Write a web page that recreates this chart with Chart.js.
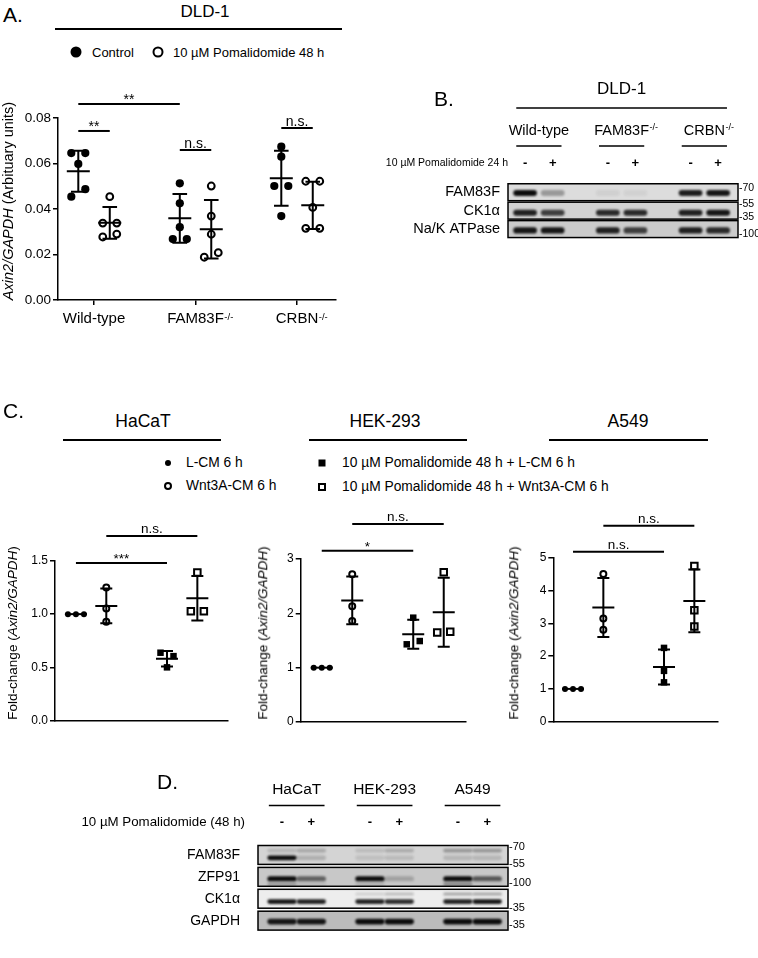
<!DOCTYPE html>
<html><head><meta charset="utf-8">
<script src="https://cdn.jsdelivr.net/npm/chart.js@4.4.1/dist/chart.umd.min.js"></script>
<style>
html,body{margin:0;padding:0;background:#fff}
body{width:758px;height:958px;position:relative;overflow:hidden;font-family:"Liberation Sans",Arial,Helvetica,sans-serif;color:#000}
canvas{position:absolute;display:block}
.t{position:absolute;white-space:nowrap;line-height:1}
.c{transform:translate(-50%,-50%)}
.l{transform:translate(0,-50%)}
.rot{transform:translate(-50%,-50%) rotate(-90deg)}
.hl{position:absolute;height:1.5px;background:#000}
.sym{position:absolute;box-sizing:border-box;transform:translate(-50%,-50%)}
</style></head><body>
<canvas id="chartA" width="350" height="280" style="left:0;top:60px"></canvas>
<canvas id="chartB" width="378" height="185" style="left:380px;top:70px"></canvas>
<canvas id="chartC1" width="250" height="240" style="left:0;top:500px"></canvas>
<canvas id="chartC2" width="250" height="240" style="left:250px;top:500px"></canvas>
<canvas id="chartC3" width="258" height="240" style="left:500px;top:500px"></canvas>
<canvas id="chartD" width="698" height="198" style="left:60px;top:760px"></canvas>
<script>
// ================= DATA =================
// Panel A – DLD-1 qPCR
const aCellLine = 'DLD-1';
const aCategories = ['Wild-type', 'FAM83F', 'CRBN'];
const aCategorySup = ['', '-/-', '-/-'];
const aSeries = ['Control', '10 µM Pomalidomide 48 h'];
const aYTicks = [0, 0.02, 0.04, 0.06, 0.08];
const aWildTypeControl = [0.0646, 0.0646, 0.0598, 0.0454, 0.0487];
const aWildTypePom = [0.0454, 0.0338, 0.0338, 0.0277, 0.0290];
const aFam83fControl = [0.0513, 0.0425, 0.0320, 0.0268, 0.0268];
const aFam83fPom = [0.0501, 0.0369, 0.0289, 0.0188, 0.0208];
const aCrbnControl = [0.0674, 0.0630, 0.0501, 0.0501, 0.0369];
const aCrbnPom = [0.0522, 0.0522, 0.0407, 0.0315, 0.0315];
const aSigLabels = ['**', '**', 'n.s.', 'n.s.'];
const aSigFrom = [0, 0, 2, 4];
const aSigTo = [2, 1, 3, 5];
const aSigLevel = [0.0862, 0.0743, 0.0659, 0.0756];

// Panel B – DLD-1 blot
const bCellLine = 'DLD-1';
const bGroups = ['Wild-type', 'FAM83F', 'CRBN'];
const bGroupSup = ['', '-/-', '-/-'];
const bTreatmentLabel = '10 µM Pomalidomide 24 h';
const bTreatment = ['-', '+', '-', '+', '-', '+'];
const bProteins = ['FAM83F', 'CK1α', 'Na/K ATPase'];
const bFam83fBand = [1.0, 0.32, 0.06, 0.05, 0.92, 0.95];
const bCk1aBand = [0.9, 0.75, 0.85, 0.85, 0.9, 0.95];
const bNakBand = [0.95, 0.95, 0.9, 0.75, 0.9, 0.85];
const bMarkerLabels = ['70', '55', '35', '100'];
const bMarkerRow = [0, 1, 1, 2];

// Panel C – fold change
const cCellLines = ['HaCaT', 'HEK-293', 'A549'];
const cConditions = ['L-CM 6 h', 'Wnt3A-CM 6 h', '10 µM Pomalidomide 48 h + L-CM 6 h', '10 µM Pomalidomide 48 h + Wnt3A-CM 6 h'];
const cHacatLcm = [1, 1, 1];
const cHacatWnt = [1.25, 1.053, 0.928];
const cHacatPomLcm = [0.639, 0.607, 0.502];
const cHacatPomWnt = [1.39, 1.028, 1.028];
const cHek293Lcm = [1, 1, 1];
const cHek293Wnt = [2.72, 2.13, 1.86];
const cHek293PomLcm = [1.92, 1.43, 1.49];
const cHek293PomWnt = [2.755, 1.645, 1.66];
const cA549Lcm = [1, 1, 1];
const cA549Wnt = [4.5, 3.15, 2.8];
const cA549PomLcm = [2.25, 1.55, 1.2];
const cA549PomWnt = [4.75, 3.4, 2.9];
const cHacatYTicks = [0, 0.5, 1.0, 1.5];
const cHek293YTicks = [0, 1, 2, 3];
const cA549YTicks = [0, 1, 2, 3, 4, 5];
const cSigFrom = [0, 1];
const cSigTo = [2, 3];
const cHacatSigLabels = ['***', 'n.s.'];
const cHacatSigLevel = [1.479, 1.732];
const cHek293SigLabels = ['*', 'n.s.'];
const cHek293SigLevel = [3.153, 3.645];
const cA549SigLabels = ['n.s.', 'n.s.'];
const cA549SigLevel = [5.18, 5.976];

// Panel D – blot
const dCellLines = ['HaCaT', 'HEK-293', 'A549'];
const dTreatmentLabel = '10 µM Pomalidomide (48 h)';
const dTreatment = ['-', '+', '-', '+', '-', '+'];
const dProteins = ['FAM83F', 'ZFP91', 'CK1α', 'GAPDH'];
const dFam83fBand = [1.0, 0.18, 0.1, 0.12, 0.15, 0.15];
const dFam83fUpperBand = [0.15, 0.22, 0.12, 0.2, 0.3, 0.3];
const dZfp91Band = [1.0, 0.55, 1.0, 0.2, 1.0, 0.6];
const dZfp91LowerBand = [0.25, 0.08, 0.12, 0, 0.35, 0.05];
const dCk1aBand = [0.95, 0.9, 0.9, 0.85, 0.9, 0.95];
const dCk1aUpperBand = [0, 0, 0.12, 0.2, 0.3, 0.3];
const dGapdhBand = [0.95, 0.95, 1, 1, 1, 1];
const dMarkerLabels = ['70', '55', '100', '35', '35'];
const dMarkerRow = [0, 0, 1, 2, 3];

// ================= SETUP =================
const FAM = '"Liberation Sans", Arial, Helvetica, sans-serif';
Chart.defaults.font.family = FAM;
Chart.defaults.color = '#000';
Chart.defaults.animation = false;

function addText(html, x, y, size, cls, style) {
  const d = document.createElement('div');
  d.className = 't ' + cls;
  d.style.left = x + 'px'; d.style.top = y + 'px'; d.style.fontSize = size + 'px';
  if (style) d.style.cssText += style;
  d.innerHTML = html;
  document.body.appendChild(d);
  return d;
}
function addLine(x0, x1, y) {
  const d = document.createElement('div');
  d.className = 'hl';
  d.style.left = x0 + 'px'; d.style.top = (y - 0.75) + 'px'; d.style.width = (x1 - x0) + 'px';
  document.body.appendChild(d);
}
function addSym(x, y, size, round, filled) {
  const d = document.createElement('div');
  d.className = 'sym';
  d.style.left = x + 'px'; d.style.top = y + 'px';
  d.style.width = size + 'px'; d.style.height = size + 'px';
  if (round) d.style.borderRadius = '50%';
  if (filled) d.style.background = '#000'; else d.style.border = '2px solid #000';
  document.body.appendChild(d);
}

// ---------- swarm (points spread sideways when they overlap) ----------
function applySwarm(chart, binPx) {
  const xs = chart.scales.x, ys = chart.scales.y;
  chart.data.datasets.forEach(ds => {
    const cx = xs.getPixelForValue(ds.groupPos);
    const pts = ds.values.map((v, i) => ({ v, i, py: ys.getPixelForValue(v) }));
    const sorted = [...pts].sort((a, b) => a.py - b.py);
    const bins = []; let cur = [];
    sorted.forEach((p, k) => {
      if (k > 0 && p.py - sorted[k - 1].py >= binPx) { bins.push(cur); cur = []; }
      cur.push(p);
    });
    if (cur.length) bins.push(cur);
    bins.forEach(bin => {
      bin.sort((a, b) => a.i - b.i);
      bin.forEach((p, k) => { p.px = cx + (k - (bin.length - 1) / 2) * ds.spread; });
    });
    ds.data = pts.map(p => ({ x: xs.getValueForPixel(p.px), y: p.v }));
  });
  chart.update('none');
}

function makeStatsPlugin(st) {
  return {
    id: 'stats',
    afterDatasetsDraw(chart) {
      const ctx = chart.ctx, xs = chart.scales.x, ys = chart.scales.y;
      ctx.save();
      ctx.strokeStyle = '#000'; ctx.lineWidth = st.lineWidth; ctx.lineCap = 'butt';
      chart.data.datasets.forEach(ds => {
        const v = ds.values, n = v.length;
        const mean = v.reduce((a, b) => a + b, 0) / n;
        const sd = Math.sqrt(v.reduce((a, b) => a + (b - mean) * (b - mean), 0) / (n - 1));
        const cx = xs.getPixelForValue(ds.groupPos);
        const ym = ys.getPixelForValue(mean), yt = ys.getPixelForValue(mean + sd), yb = ys.getPixelForValue(mean - sd);
        ctx.beginPath();
        ctx.moveTo(cx - st.meanHalf, ym); ctx.lineTo(cx + st.meanHalf, ym);
        if (sd > 1e-9) {
          ctx.moveTo(cx, yt); ctx.lineTo(cx, yb);
          ctx.moveTo(cx - st.capHalf, yt); ctx.lineTo(cx + st.capHalf, yt);
          ctx.moveTo(cx - st.capHalf, yb); ctx.lineTo(cx + st.capHalf, yb);
        }
        ctx.stroke();
      });
      ctx.fillStyle = '#000'; ctx.textAlign = 'center'; ctx.textBaseline = 'alphabetic';
      ctx.font = st.sigFont + 'px ' + FAM;
      st.sigLabels.forEach((lab, k) => {
        const d0 = chart.data.datasets[st.sigFrom[k]], d1 = chart.data.datasets[st.sigTo[k]];
        const x0 = xs.getPixelForValue(d0.groupPos), x1 = xs.getPixelForValue(d1.groupPos);
        const y = ys.getPixelForValue(st.sigLevel[k]);
        ctx.beginPath(); ctx.moveTo(x0, y); ctx.lineTo(x1, y); ctx.stroke();
        const star = lab.indexOf('*') >= 0;
        ctx.fillText(lab, (x0 + x1) / 2, y - (star ? st.starGap : st.textGap));
      });
      ctx.restore();
    }
  };
}

function makeSupPlugin(labels, sups, mainSize, supSize, tickLen, pad, dy) {
  return {
    id: 'xsup',
    afterDraw(chart) {
      const xs = chart.scales.x, ctx = chart.ctx;
      ctx.save(); ctx.fillStyle = '#000'; ctx.textAlign = 'left'; ctx.textBaseline = 'top';
      labels.forEach((lab, i) => {
        if (!sups[i]) return;
        ctx.font = mainSize + 'px ' + FAM;
        const w = ctx.measureText(lab).width;
        const x = xs.getPixelForValue(i) + w / 2 + 0.5;
        ctx.font = supSize + 'px ' + FAM;
        ctx.fillText(sups[i], x, xs.top + tickLen + pad + dy);
      });
      ctx.restore();
    }
  };
}

function dotChart(id, cfg) {
  const datasets = cfg.groups.map(g => ({
    label: g.label, values: g.values, groupPos: g.pos, spread: g.spread,
    data: g.values.map(v => ({ x: g.pos, y: v })),
    pointStyle: g.shape, pointRadius: g.radius, pointHoverRadius: g.radius,
    backgroundColor: g.filled ? '#000' : '#fff', borderColor: '#000',
    borderWidth: g.filled ? 0 : 2, showLine: false, clip: false
  }));
  const plugins = [makeStatsPlugin(cfg.stats)];
  if (cfg.sup) plugins.push(cfg.sup);
  const chart = new Chart(document.getElementById(id), {
    type: 'scatter',
    data: { datasets },
    options: {
      responsive: false, devicePixelRatio: 1, animation: false,
      layout: { padding: cfg.padding },
      events: [],
      scales: {
        x: {
          type: 'linear', min: cfg.xMin, max: cfg.xMax,
          afterBuildTicks: s => { s.ticks = (cfg.xTicks || []).map(v => ({ value: v })); },
          afterFit: s => { s.height = cfg.xHeight; },
          ticks: { display: !!cfg.xLabels, callback: v => (cfg.xLabels ? cfg.xLabels[v] : ''), font: { size: cfg.xFont || 12 }, padding: cfg.xPad || 0, maxRotation: 0, autoSkip: false, color: '#000' },
          grid: { display: !!cfg.xTicks, drawOnChartArea: false, drawTicks: true, tickLength: 5, color: '#000', lineWidth: 1.5 },
          border: { display: true, color: '#000', width: 1.5 }
        },
        y: {
          type: 'linear', min: cfg.yMin, max: cfg.yMax,
          afterBuildTicks: s => { s.ticks = cfg.yTicks.map(v => ({ value: v })); },
          afterFit: s => { s.width = cfg.yWidth; },
          ticks: { callback: v => Number(v).toFixed(cfg.yDec), font: { size: cfg.yFont }, padding: 2, color: '#000', autoSkip: false },
          grid: { display: true, drawOnChartArea: false, drawTicks: true, tickLength: 5, color: '#000', lineWidth: 1.5 },
          border: { display: true, color: '#000', width: 1.5 }
        }
      },
      plugins: { legend: { display: false }, tooltip: { enabled: false } }
    },
    plugins
  });
  applySwarm(chart, cfg.binPx);
  return chart;
}

// ---------- western blot drawn on a Chart.js lane/row grid ----------
const lanePos = i => i + Math.floor(i / 2); // pairs of lanes with a gap between groups
function makeBlotPlugin(o) {
  return {
    id: 'blot',
    afterDraw(chart) {
      const ctx = chart.ctx, xs = chart.scales.x, ys = chart.scales.y, ca = chart.chartArea;
      const lx = i => xs.getPixelForValue(lanePos(i));
      const u = lx(1) - lx(0);
      const rowH = (ca.bottom - ca.top) / o.rows.length;
      const rowBox = r => { const cy = ys.getPixelForValue(r); return { top: cy - rowH / 2 + o.rowGap / 2, h: rowH - o.rowGap }; };
      ctx.save();
      o.rows.forEach((row, r) => {
        const { top, h } = rowBox(r);
        ctx.fillStyle = row.bg;
        ctx.fillRect(ca.left, top, ca.right - ca.left, h);
        ctx.save();
        ctx.beginPath(); ctx.rect(ca.left, top, ca.right - ca.left, h); ctx.clip();
        row.bands.forEach(b => {
          b.values.forEach((v, i) => {
            if (!v) return;
            const x = lx(i), y = top + b.frac * h;
            const hw = o.bandHalfW * u, hh = b.halfH;
            ctx.save();
            ctx.filter = 'blur(' + o.blur + 'px)';
            ctx.fillStyle = 'rgba(12,12,12,' + v + ')';
            ctx.beginPath();
            if (ctx.roundRect) ctx.roundRect(x - hw, y - hh, 2 * hw, 2 * hh, hh);
            else ctx.rect(x - hw, y - hh, 2 * hw, 2 * hh);
            ctx.fill();
            ctx.restore();
          });
        });
        ctx.restore();
        ctx.lineWidth = 1.5; ctx.strokeStyle = '#000';
        ctx.strokeRect(ca.left, top, ca.right - ca.left, h);
      });
      // molecular weight markers
      ctx.fillStyle = '#000'; ctx.textAlign = 'left'; ctx.textBaseline = 'middle';
      ctx.font = o.mwSize + 'px ' + FAM;
      o.markers.forEach((m, k) => {
        const { top, h } = rowBox(o.markerRows[k]);
        ctx.fillText('-' + m, ca.right + 1, top + o.markerFrac[k] * h);
      });
      // group headers
      let ulStart = null, ulEnd = null;
      o.groups.forEach((g, gi) => {
        const cx = (lx(2 * gi) + lx(2 * gi + 1)) / 2;
        const gy = ca.top - o.groupOff;
        ctx.font = o.groupSize + 'px ' + FAM; ctx.textAlign = 'center'; ctx.textBaseline = 'middle';
        ctx.fillText(g, cx, gy);
        if (o.groupSup && o.groupSup[gi]) {
          const w = ctx.measureText(g).width;
          ctx.font = o.supSize + 'px ' + FAM; ctx.textAlign = 'left';
          ctx.fillText(o.groupSup[gi], cx + w / 2 + 0.5, gy - o.supRaise);
        }
        const a = cx - o.ulHalf * u, b = cx + o.ulHalf * u, uy = ca.top - o.ulOff;
        ctx.lineWidth = 1.5; ctx.strokeStyle = '#000';
        ctx.beginPath(); ctx.moveTo(a, uy); ctx.lineTo(b, uy); ctx.stroke();
        if (ulStart === null) ulStart = a; ulEnd = b;
      });
      if (o.title) {
        ctx.font = o.titleSize + 'px ' + FAM; ctx.textAlign = 'center'; ctx.textBaseline = 'middle';
        ctx.fillText(o.title, (lx(0) + lx(o.signs.length - 1)) / 2, ca.top - o.titleOff);
        const ty = ca.top - o.titleLineOff;
        ctx.beginPath(); ctx.moveTo(ulStart, ty); ctx.lineTo(ulEnd, ty); ctx.stroke();
      }
      // treatment signs
      const sy = ca.top - o.signOff;
      ctx.font = 'bold ' + o.signSize + 'px ' + FAM; ctx.textAlign = 'center'; ctx.textBaseline = 'middle';
      o.signs.forEach((s, i) => ctx.fillText(s, lx(i), sy));
      ctx.font = o.treatSize + 'px ' + FAM; ctx.textAlign = 'right';
      ctx.fillText(o.treatLabel, ca.left - o.treatGap, sy);
      ctx.restore();
    }
  };
}
function blotChart(id, o) {
  return new Chart(document.getElementById(id), {
    type: 'scatter',
    data: { datasets: [{ data: [] }] },
    options: {
      responsive: false, devicePixelRatio: 1, animation: false, events: [],
      layout: { padding: o.padding },
      scales: {
        x: { type: 'linear', min: o.xMin, max: o.xMax, display: false },
        y: {
          type: 'category', labels: o.rows.map(r => r.name), offset: true,
          afterFit: s => { s.width = o.yWidth; },
          ticks: { font: { size: o.rowFont }, padding: o.rowPad, color: '#000', autoSkip: false },
          grid: { display: false, drawTicks: false }, border: { display: false }
        }
      },
      plugins: { legend: { display: false }, tooltip: { enabled: false } }
    },
    plugins: [makeBlotPlugin(o)]
  });
}

// ================= PANEL A =================
addText('A.', 3, 14, 21, 'l');
addText(aCellLine, 205, 11, 17, 'c');
addLine(55, 342, 29);
addSym(76, 52, 11, true, true);
addText(aSeries[0], 92, 52, 13, 'l');
addSym(158, 52, 11, true, false);
addText(aSeries[1], 173, 52, 13, 'l');
addText('<i>Axin2/GAPDH</i> (Arbituary units)', 8, 201, 14.5, 'rot');

const aOff = 0.155;
const aGroupValues = [aWildTypeControl, aWildTypePom, aFam83fControl, aFam83fPom, aCrbnControl, aCrbnPom];
dotChart('chartA', {
  groups: aGroupValues.map((vals, g) => {
    const cat = Math.floor(g / 2), treated = g % 2 === 1;
    return {
      label: aCategories[cat] + ' – ' + aSeries[g % 2], values: vals,
      pos: cat + (treated ? aOff : -aOff),
      shape: 'circle', radius: treated ? 3.4 : 4.1, filled: !treated, spread: 14
    };
  }),
  binPx: 9,
  padding: { top: 58, right: 14, bottom: 10, left: 0 },
  xMin: -0.355, xMax: 2.384, xTicks: [0, 1, 2], xLabels: aCategories, xFont: 15, xPad: 5, xHeight: 30,
  yMin: 0, yMax: 0.08, yTicks: aYTicks, yDec: 2, yFont: 13.5, yWidth: 58,
  stats: { lineWidth: 2, meanHalf: 11.5, capHalf: 7.3, sigFont: 14, starGap: 0, textGap: 2.5,
           sigLabels: aSigLabels, sigFrom: aSigFrom, sigTo: aSigTo, sigLevel: aSigLevel },
  sup: makeSupPlugin(aCategories, aCategorySup, 15, 9.5, 5, 5, 3)
});

// ================= PANEL B =================
addText('B.', 434, 98, 21, 'l');
blotChart('chartB', {
  padding: { top: 113, right: 20, bottom: 13, left: 0 },
  yWidth: 128, rowPad: 8, rowFont: 14.5,
  xMin: -0.62, xMax: 7.72, rowGap: 1.5,
  title: bCellLine, titleSize: 17, titleOff: 94, titleLineOff: 75,
  groups: bGroups, groupSup: bGroupSup, groupSize: 14.5, supSize: 9, supRaise: 3,
  groupOff: 52, ulOff: 37, ulHalf: 0.82,
  signs: bTreatment, signOff: 20, signSize: 13,
  treatLabel: bTreatmentLabel, treatSize: 10.5, treatGap: 0,
  markers: bMarkerLabels, markerRows: bMarkerRow, markerFrac: [0.23, 0.09, 0.91, 0.82], mwSize: 10.5,
  bandHalfW: 0.43, blur: 0.9,
  rows: [
    { name: bProteins[0], bg: '#dcdcdc', bands: [{ frac: 0.55, halfH: 3, values: bFam83fBand }] },
    { name: bProteins[1], bg: '#d2d2d2', bands: [{ frac: 0.62, halfH: 3, values: bCk1aBand }] },
    { name: bProteins[2], bg: '#cbcbcb', bands: [{ frac: 0.58, halfH: 3.1, values: bNakBand }] }
  ]
});

// ================= PANEL C =================
addText('C.', 3, 410, 21, 'l');
const cHeaderX = [143, 385, 628];
const cLineSpan = [[63, 221], [309, 467], [549, 708]];
cCellLines.forEach((n, i) => { addText(n, cHeaderX[i], 422, 17.5, 'c'); addLine(cLineSpan[i][0], cLineSpan[i][1], 440); });
const cLegSym = [[168, 463, 6, true, true], [168, 486, 8, true, false], [322, 463, 7, false, true], [322, 487, 8, false, false]];
const cLegText = [[186, 463], [186, 486], [342, 463], [342, 487]];
cConditions.forEach((c, i) => {
  const s = cLegSym[i]; addSym(s[0], s[1], s[2], s[3], s[4]);
  addText(c, cLegText[i][0], cLegText[i][1], 13.8, 'l');
});
const cYTitle = 'Fold-change (<i>Axin2/GAPDH</i>)';
addText(cYTitle, 13, 633, 13.5, 'rot');
addText(cYTitle, 263, 633, 13.5, 'rot');
addText(cYTitle, 514, 633, 13.5, 'rot');

const cPos = i => i + 1 + (i >= 2 ? 1 : 0);
function cGroups(vals) {
  const shapes = [['circle', 3, true, 8], ['circle', 3, false, 13], ['rect', 4.6, true, 13], ['rect', 4.6, false, 13]];
  return vals.map((v, i) => ({ label: cConditions[i], values: v, pos: cPos(i), shape: shapes[i][0], radius: shapes[i][1], filled: shapes[i][2], spread: shapes[i][3] }));
}
const cStats = (labels, levels) => ({ lineWidth: 2, meanHalf: 11, capHalf: 6, sigFont: 13.5, starGap: 0, textGap: 2.5, sigLabels: labels, sigFrom: cSigFrom, sigTo: cSigTo, sigLevel: levels });

dotChart('chartC1', {
  groups: cGroups([cHacatLcm, cHacatWnt, cHacatPomLcm, cHacatPomWnt]), binPx: 9,
  padding: { top: 60.7, right: 22, bottom: 19, left: 0 },
  xMin: 0.31, xMax: 6.01, xHeight: 0,
  yMin: 0, yMax: 1.5, yTicks: cHacatYTicks, yDec: 1, yFont: 12, yWidth: 55,
  stats: cStats(cHacatSigLabels, cHacatSigLevel)
});
dotChart('chartC2', {
  groups: cGroups([cHek293Lcm, cHek293Wnt, cHek293PomLcm, cHek293PomWnt]), binPx: 9,
  padding: { top: 59, right: 34, bottom: 18, left: 0 },
  xMin: 0.31, xMax: 5.73, xHeight: 0,
  yMin: 0, yMax: 3, yTicks: cHek293YTicks, yDec: 0, yFont: 12, yWidth: 50.7,
  stats: cStats(cHek293SigLabels, cHek293SigLevel)
});
dotChart('chartC3', {
  groups: cGroups([cA549Lcm, cA549Wnt, cA549PomLcm, cA549PomWnt]), binPx: 9,
  padding: { top: 57.7, right: 40.3, bottom: 18.3, left: 0 },
  xMin: 0.35, xMax: 5.77, xHeight: 0,
  yMin: 0, yMax: 5, yTicks: cA549YTicks, yDec: 0, yFont: 12, yWidth: 53.3,
  stats: cStats(cA549SigLabels, cA549SigLevel)
});

// ================= PANEL D =================
addText('D.', 157, 781, 21, 'l');
blotChart('chartD', {
  padding: { top: 84, right: 250, bottom: 1, left: 0 },
  yWidth: 198, rowPad: 18, rowFont: 14,
  xMin: -0.82, xMax: 7.71, rowGap: 3,
  title: null,
  groups: dCellLines, groupSup: null, groupSize: 15.5, supSize: 9, supRaise: 3,
  groupOff: 54, ulOff: 38.4, ulHalf: 0.95,
  signs: dTreatment, signOff: 22, signSize: 13,
  treatLabel: dTreatmentLabel, treatSize: 13.3, treatGap: 13,
  markers: dMarkerLabels, markerRows: dMarkerRow, markerFrac: [0.1, 0.97, 0.84, 1.0, 0.74], mwSize: 11,
  bandHalfW: 0.5, blur: 1,
  rows: [
    { name: dProteins[0], bg: '#d4d4d4', bands: [{ frac: 0.65, halfH: 2.4, values: dFam83fBand }, { frac: 0.27, halfH: 1.8, values: dFam83fUpperBand }] },
    { name: dProteins[1], bg: '#c8c8c8', bands: [{ frac: 0.6, halfH: 2.6, values: dZfp91Band }, { frac: 0.88, halfH: 1.6, values: dZfp91LowerBand }] },
    { name: dProteins[2], bg: '#ededed', bands: [{ frac: 0.65, halfH: 2.3, values: dCk1aBand }, { frac: 0.25, halfH: 1.5, values: dCk1aUpperBand }] },
    { name: dProteins[3], bg: '#bcbcbc', bands: [{ frac: 0.55, halfH: 2.8, values: dGapdhBand }] }
  ]
});
</script>
</body></html>
